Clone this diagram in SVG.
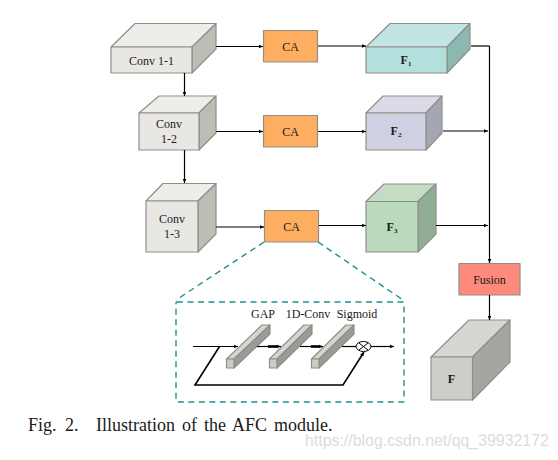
<svg xmlns="http://www.w3.org/2000/svg" width="558" height="460" viewBox="0 0 558 460">
<style>
text{font-family:"Liberation Serif","Times New Roman",serif;fill:#1a1a1a;text-anchor:middle}
.l{font-size:12px}
.b{font-size:12px;font-weight:bold}
.s{stroke:#8f8f88;stroke-width:1.2;stroke-linejoin:round}
.c{fill:none;stroke:#000;stroke-width:1.2}
.t{fill:none;stroke:#000;stroke-width:1.6}
.d{fill:none;stroke:#1f9090;stroke-width:1.4;stroke-dasharray:6 4.5}
</style>
<defs>
<marker id="a" markerWidth="5" markerHeight="5" refX="4.5" refY="2.5" orient="auto" markerUnits="userSpaceOnUse"><path d="M0 .5L4.5 2.5L0 4.5z" fill="#000"/></marker>
</defs>
<rect width="558" height="460" fill="#fff"/>
<g id="conv11" class="s"><polygon points="111,47 135,23.5 216,23.5 192,47" fill="#eeedea"/><polygon points="192,47 216,23.5 216,49 192,73" fill="#bdbcb5"/><rect x="111" y="47" width="81" height="26" fill="#e8e7e4"/><text class="l" x="151.500" y="64.500" stroke="none">Conv 1-1</text></g>
<g id="conv12" class="s"><polygon points="139,113 159,96 216,96 199,113" fill="#eeedea"/><polygon points="199,113 216,96 216,133 199,150" fill="#bdbcb5"/><rect x="139" y="113" width="60" height="37" fill="#e8e7e4"/><text class="l" x="169" y="128" stroke="none">Conv</text><text class="l" x="169" y="143" stroke="none">1-2</text></g>
<g id="conv13" class="s"><polygon points="146,201 163,183.500 216,183.500 198,201" fill="#eeedea"/><polygon points="198,201 216,183.500 216,234 198,252" fill="#bdbcb5"/><rect x="146" y="201" width="52" height="51" fill="#e8e7e4"/><text class="l" x="172" y="223" stroke="none">Conv</text><text class="l" x="172" y="238" stroke="none">1-3</text></g>
<g id="ca1" class="s"><rect x="263.500" y="30.500" width="54" height="31.500" fill="#fdae61"/><text class="l" x="290.500" y="50.500" stroke="none">CA</text></g>
<g id="ca2" class="s"><rect x="263.500" y="115.500" width="54" height="31.500" fill="#fdae61"/><text class="l" x="290.500" y="135.500" stroke="none">CA</text></g>
<g id="ca3" class="s"><rect x="264.500" y="210.500" width="54" height="31.500" fill="#fdae61"/><text class="l" x="291.500" y="230.500" stroke="none">CA</text></g>
<g id="f1" class="s"><polygon points="366,47 390,23.500 470,23.500 447,47" fill="#c0e5e2"/><polygon points="447,47 470,23.500 470,49 447,73" fill="#8db8b2"/><rect x="366" y="47" width="81" height="26" fill="#b2e0dc"/><text class="b" x="406" y="64" stroke="none">F<tspan font-size="7" dy="2">1</tspan></text></g>
<g id="f2" class="s"><polygon points="366,113 383,96 442,96 426,113" fill="#dadbe6"/><polygon points="426,113 442,96 442,133 426,150" fill="#a5a6b4"/><rect x="366" y="113" width="60" height="37" fill="#cfd0e2"/><text class="b" x="396" y="135" stroke="none">F<tspan font-size="7" dy="2">2</tspan></text></g>
<g id="f3" class="s"><polygon points="366,201.500 384,184 436,184 418,201.500" fill="#c5dcc4"/><polygon points="418,201.500 436,184 436,234 418,252" fill="#8fae94"/><rect x="366" y="201.500" width="52" height="50.500" fill="#b9dabd"/><text class="b" x="392" y="231" stroke="none">F<tspan font-size="7" dy="2">3</tspan></text></g>
<g id="fusion" class="s"><rect x="459" y="263.500" width="61" height="31.500" fill="#fd8a7c"/><text class="l" x="489.500" y="283.500" stroke="none">Fusion</text></g>
<g id="f" class="s"><polygon points="431,357 469,320 510,320 472.500,357" fill="#d8d6d2"/><polygon points="472.500,357 510,320 510,362 472.500,400" fill="#a6a5a0"/><rect x="431" y="357" width="41.500" height="43" fill="#cfcdc9"/><text class="b" x="451.500" y="383" stroke="none">F</text></g>
<g id="connectors">
<path class="c" marker-end="url(#a)" d="M216 46.500H263"/><path class="c" marker-end="url(#a)" d="M216 131.500H263"/><path class="c" marker-end="url(#a)" d="M216 227H264"/>
<path class="c" marker-end="url(#a)" d="M184.500 73V96"/><path class="c" marker-end="url(#a)" d="M184.500 150V183"/>
<path class="c" marker-end="url(#a)" d="M318 46H366"/><path class="c" marker-end="url(#a)" d="M318 131.500H366"/><path class="c" marker-end="url(#a)" d="M319 225.500H366"/>
<path class="c" d="M471 46H489.500"/><path class="c" marker-end="url(#a)" d="M443 131H488"/><path class="c" marker-end="url(#a)" d="M436 225.500H488"/>
<path class="c" marker-end="url(#a)" d="M489.500 46V263"/><path class="c" marker-end="url(#a)" d="M489.500 295V320"/>
</g>
<g id="inset">
<path class="d" d="M264 242L176 300"/><path class="d" d="M318 242L403 300"/>
<rect class="d" x="176" y="302" width="228" height="100" rx="1"/>
<text class="l" x="263" y="318">GAP</text><text class="l" x="308" y="318">1D-Conv</text><text class="l" x="357" y="318">Sigmoid</text>
<g id="bar1" class="s"><polygon points="226.500,359 262,325 270,325 234,359" fill="#d6d5cf"/><polygon points="234,359 270,325 270,334 234,368" fill="#9b9a94"/><rect x="226.500" y="359" width="7.500" height="9" fill="#cccbc5"/></g>
<g id="bar2" class="s"><polygon points="269.500,359 304,325 312,325 277,359" fill="#d6d5cf"/><polygon points="277,359 312,325 312,334 277,368" fill="#9b9a94"/><rect x="269.500" y="359" width="7.500" height="9" fill="#cccbc5"/></g>
<g id="bar3" class="s"><polygon points="311.500,359 346,325 354,325 319,359" fill="#d6d5cf"/><polygon points="319,359 354,325 354,334 319,368" fill="#9b9a94"/><rect x="311.500" y="359" width="7.500" height="9" fill="#cccbc5"/></g>
<g id="mul" fill="none" stroke="#000" stroke-width="1"><ellipse cx="363.500" cy="346.500" rx="7.500" ry="5" fill="#fff"/><path d="M359 343L368 350M368 343L359 350"/></g>
<g id="inset-connectors">
<path class="c" marker-end="url(#a)" d="M193 346.500H238"/><path class="c" d="M257 346.500H268"/><path class="c" marker-end="url(#a)" d="M268 346.500H281"/><path d="M268 346.500H277" stroke="#000" stroke-width="2.600"/>
<path class="c" d="M300 346.500H311"/><path class="c" marker-end="url(#a)" d="M311 346.500H323"/><path d="M311 346.500H320" stroke="#000" stroke-width="2.600"/>
<path class="c" d="M342 346.500H356"/><path class="c" marker-end="url(#a)" d="M371 346.500H394"/>
<path class="t" marker-end="url(#a)" d="M219.500 346.500L195 385H343L364 352"/>
</g>
</g>
<text x="28" y="431" style="font-size:18px;text-anchor:start;fill:#1a1a1a;word-spacing:4px">Fig. 2.</text>
<text x="96" y="431" style="font-size:18px;text-anchor:start;fill:#1a1a1a;word-spacing:2.500px">Illustration of the AFC module.</text>
<text x="305" y="446" style="font-family:'Liberation Sans',Arial,sans-serif;font-size:15.900px;text-anchor:start;fill:#dcdcdc">https://blog.csdn.net/qq_39932172</text>
</svg>
